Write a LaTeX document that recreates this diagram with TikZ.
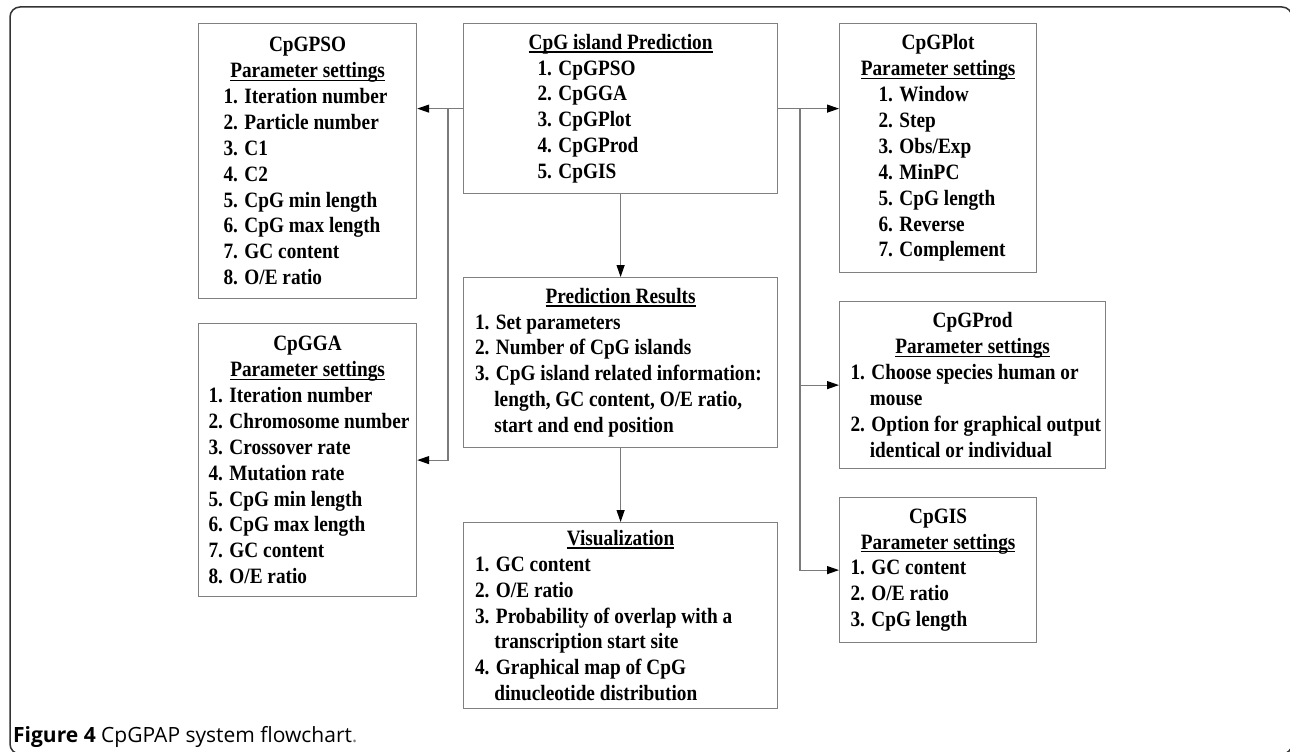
\documentclass[tikz,border=0pt]{standalone}
\usepackage{fontspec}
\setmainfont{Liberation Serif}
\newfontfamily\boxfam{Liberation Serif}[FakeStretch=0.88]
\newfontfamily\capfam{Open Sans}
\usetikzlibrary{arrows.meta}
\definecolor{boxgray}{HTML}{808080}
\definecolor{linegray}{HTML}{7A7A7A}
\definecolor{framegray}{HTML}{333333}
\newsavebox\ulsave
\newcommand\ulx[1]{\sbox\ulsave{#1}\rlap{\rule[-3.4pt]{\wd\ulsave}{1.3pt}}\usebox\ulsave}
\newcommand\itm[2]{\makebox[#1][l]{#2}}
\newcommand\hang{\phantom{3.\ }}
\tikzset{
  box/.style={draw=boxgray, line width=1.2pt, anchor=north west, inner sep=0pt,
    align=center, font=\boxfam\bfseries\fontsize{21.9}{25.9}\selectfont},
  conn/.style={draw=linegray, line width=1.2pt},
  arr/.style={conn, -{Triangle[length=12pt,width=8pt,color=black]}},
}
\begin{document}
\begin{tikzpicture}[x=1pt,y=-1pt]
\useasboundingbox (0,0) rectangle (1290,752);
\begin{scope}
\clip (0,0) rectangle (1290,752);
\draw[framegray, line width=1.5pt, rounded corners=10pt] (10,7) rectangle (1292,754);
\end{scope}

% boxes
\node[box, minimum width=218pt, minimum height=275pt] (pso) at (198,23) {%
CpGPSO\\ \ulx{Parameter settings}\\
\itm{168pt}{1. Iteration number}\\
\itm{168pt}{2. Particle number}\\
\itm{168pt}{3. C1}\\
\itm{168pt}{4. C2}\\
\itm{168pt}{5. CpG min length}\\
\itm{168pt}{6. CpG max length}\\
\itm{168pt}{7. GC content}\\
\itm{168pt}{8. O/E ratio}};

\node[box, minimum width=314pt, minimum height=170pt] (pred) at (463,23) {%
\ulx{CpG island Prediction}\\
\itm{166pt}{1. CpGPSO}\\
\itm{166pt}{2. CpGGA}\\
\itm{166pt}{3. CpGPlot}\\
\itm{166pt}{4. CpGProd}\\
\itm{166pt}{5. CpGIS}};

\node[box, minimum width=197pt, minimum height=249pt] (plot) at (839,23) {%
CpGPlot\\ \ulx{Parameter settings}\\
\itm{119pt}{1. Window}\\
\itm{119pt}{2. Step}\\
\itm{119pt}{3. Obs/Exp}\\
\itm{119pt}{4. MinPC}\\
\itm{119pt}{5. CpG length}\\
\itm{119pt}{6. Reverse}\\
\itm{119pt}{7. Complement}};

\node[box, minimum width=218pt, minimum height=273pt] (gga) at (198,323) {%
CpGGA\\ \ulx{Parameter settings}\\
\itm{198pt}{1. Iteration number}\\
\itm{198pt}{2. Chromosome number}\\
\itm{198pt}{3. Crossover rate}\\
\itm{198pt}{4. Mutation rate}\\
\itm{198pt}{5. CpG min length}\\
\itm{198pt}{6. CpG max length}\\
\itm{198pt}{7. GC content}\\
\itm{198pt}{8. O/E ratio}};

\node[box, minimum width=314pt, minimum height=170pt] (res) at (463,277) {%
\ulx{Prediction Results}\\
\itm{291pt}{1. Set parameters}\\
\itm{291pt}{2. Number of CpG islands}\\
\itm{291pt}{3. CpG island related information:}\\
\itm{291pt}{\hang length, GC content, O/E ratio,}\\
\itm{291pt}{\hang start and end position}};

\node[box, minimum width=314pt, minimum height=186pt] (vis) at (463,522) {%
\ulx{Visualization}\\
\itm{291pt}{1. GC content}\\
\itm{291pt}{2. O/E ratio}\\
\itm{291pt}{3. Probability of overlap with a}\\
\itm{291pt}{\hang transcription start site}\\
\itm{291pt}{4. Graphical map of CpG}\\
\itm{291pt}{\hang dinucleotide distribution}};

\node[box, minimum width=266pt, minimum height=167pt] (prod) at (839,301) {%
CpGProd\\ \ulx{Parameter settings}\\
\itm{244pt}{1. Choose species human or}\\
\itm{244pt}{\hang mouse}\\
\itm{244pt}{2. Option for graphical output}\\
\itm{244pt}{\hang identical or individual}};

\node[box, minimum width=197pt, minimum height=145pt] (is) at (839,497) {%
CpGIS\\ \ulx{Parameter settings}\\
\itm{175pt}{1. GC content}\\
\itm{175pt}{2. O/E ratio}\\
\itm{175pt}{3. CpG length}};

% connectors
\coordinate (jl) at (448,108);
\coordinate (jr) at (800,108);
\draw[arr] (pred.west) -- (pred.west -| pso.east);
\draw[arr] (jl) |- (gga.east);
\draw[arr] (pred.east) -- (pred.east -| plot.west);
\draw[arr] (jr) |- (is.west);
\draw[arr] (jr |- prod.west) -- (prod.west);
\draw[arr] (pred.south) -- (res.north);
\draw[arr] (res.south) -- (vis.north);

% caption
\node[anchor=base west, inner sep=0pt, font=\capfam\fontsize{21}{25}\selectfont] (cap) at (13,742)
  {\textbf{Figure 4} CpGPAP system flowchart\textcolor{gray}{.}};
\end{tikzpicture}
\end{document}
